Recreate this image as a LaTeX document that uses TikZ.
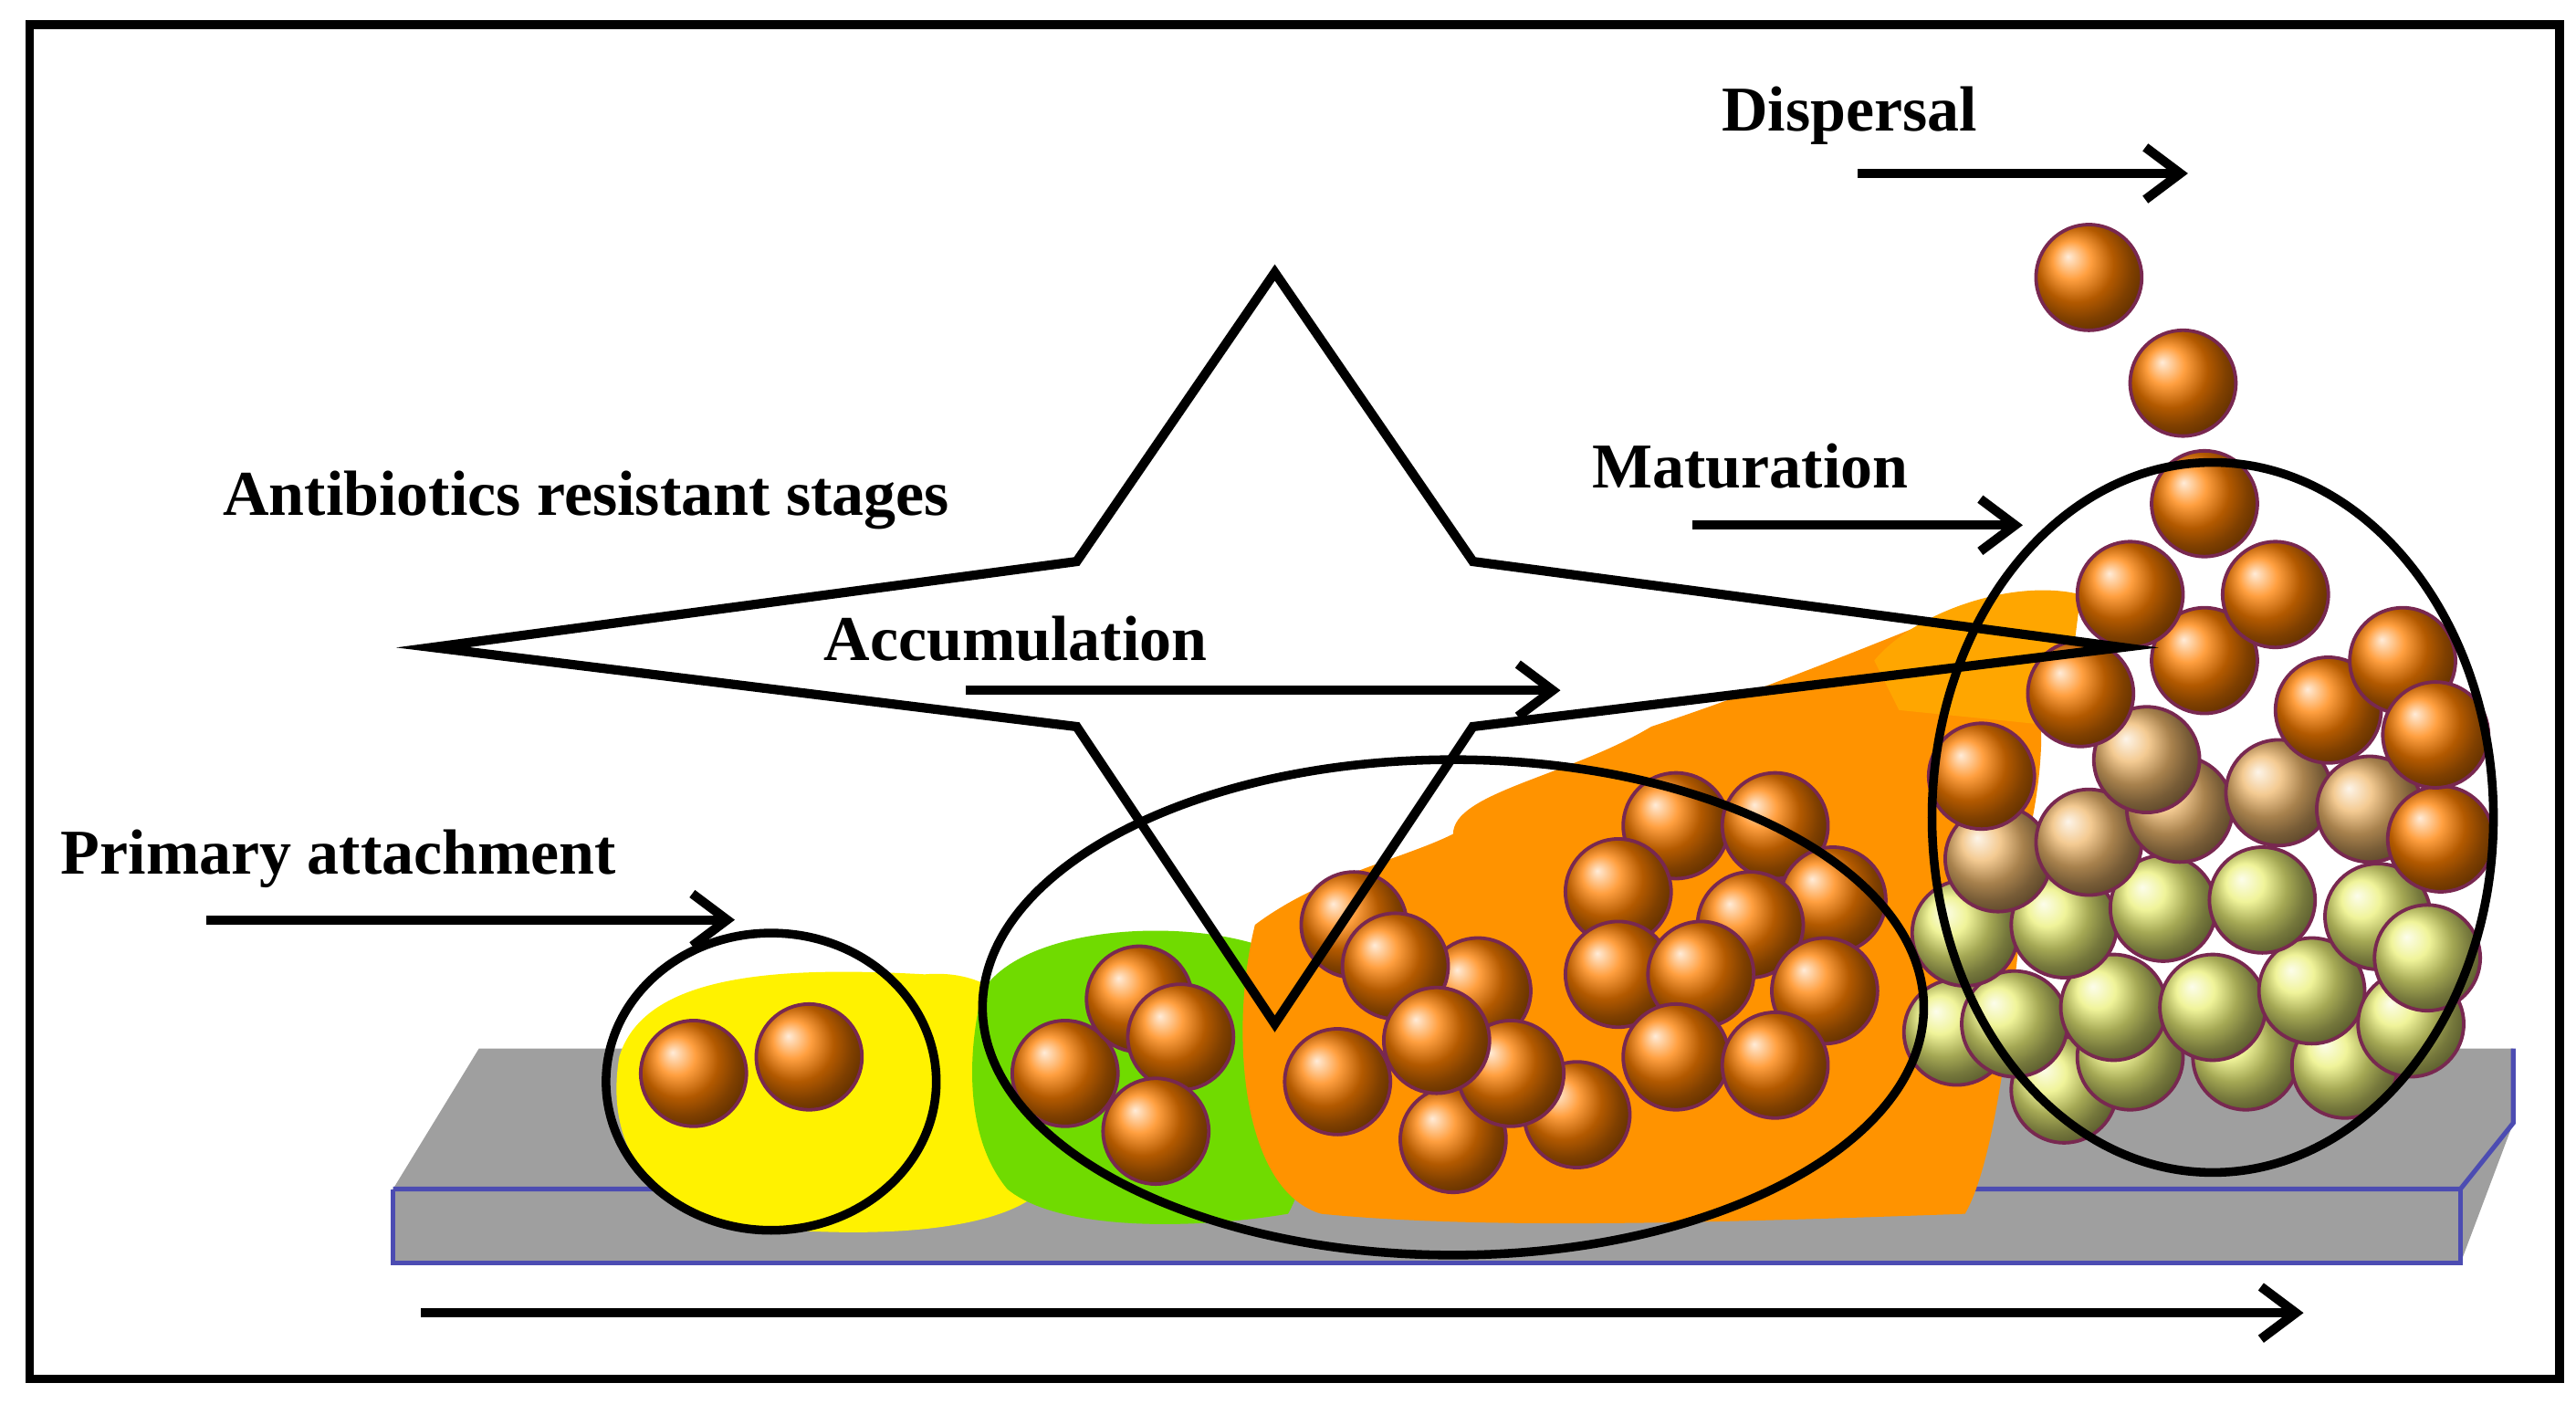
\documentclass[tikz,border=0pt]{standalone}
\usepackage{fontspec}
\usetikzlibrary{arrows.meta}
\setmainfont{Liberation Serif}
\begin{document}
\begin{tikzpicture}[x=0.01cm,y=-0.01cm,
  lbl/.style={font=\bfseries\fontsize{11}{13}\selectfont,inner sep=0pt},
  arr/.style={-{Straight Barb[length=6pt,width=9pt]},line width=1.6pt},
  ring/.style={draw=black,line width=1.5pt},
  sph/.style={circle,draw={rgb,255:red,120;green,40;blue,80},line width=0.6pt,minimum size=0.64cm,inner sep=0pt,shading=ball},
  cor/.style={sph,ball color=orange},
  tan/.style={sph,ball color={rgb,255:red,240;green,185;blue,110}},
  yg/.style={sph,ball color={rgb,255:red,235;green,240;blue,120}}]
\useasboundingbox (0,0) rectangle (1560,850);
\draw[line width=1.5pt] (18,15) rectangle (1550,835);
% substrate
\fill[gray!75] (238,720) -- (290,635) -- (1522,635) -- (1522,680) -- (1490,765) -- (238,765) -- cycle;
\draw[blue!40!gray,line width=0.8pt] (238,720) -- (1490,720) -- (1522,680) -- (1522,635);
\draw[blue!40!gray,line width=0.8pt] (238,720) -- (238,765) -- (1490,765) -- (1490,720);
% biofilm blobs
\fill[yellow] (375,640) .. controls (390,590) and (470,585) .. (560,590) .. controls (620,585) and (640,640) .. (640,700) .. controls (640,740) and (560,750) .. (480,745) .. controls (400,745) and (365,700) .. (375,640) -- cycle;
\fill[green!60!olive!70!yellow] (595,600) .. controls (620,560) and (720,555) .. (770,575) .. controls (810,600) and (800,700) .. (780,735) .. controls (720,745) and (640,745) .. (610,720) .. controls (585,690) and (585,640) .. (595,600) -- cycle;
\fill[orange!85!yellow] (760,560) .. controls (800,530) and (850,520) .. (880,505) .. controls (880,480) and (950,470) .. (1000,440) .. controls (1060,420) and (1110,400) .. (1160,380) .. controls (1220,360) and (1250,400) .. (1230,500) .. controls (1220,600) and (1210,700) .. (1190,735) .. controls (1050,740) and (900,745) .. (800,735) .. controls (750,720) and (745,620) .. (760,560) -- cycle;
\fill[orange!70!yellow] (1135,400) .. controls (1160,370) and (1220,350) .. (1260,360) -- (1250,440) -- (1150,430) -- cycle;
% spheres
\foreach \p in {(420,650),(490,640)} \node[cor] at \p {};
\foreach \p in {(645,650),(690,605),(715,628),(700,685)} \node[cor] at \p {};
\foreach \p in {(820,560),(895,600),(845,585),(810,655),(955,675),(880,690),(915,650),(870,630)} \node[cor] at \p {};
\foreach \p in {(1015,500),(1075,500),(1110,545),(980,540),(1060,560),(1105,600),(980,590),(1030,590),(1015,640),(1075,645)} \node[cor] at \p {};
\foreach \p in {(1185,625),(1250,660),(1290,640),(1360,640),(1420,645),(1220,620),(1280,610),(1340,610),(1400,600),(1460,620),(1190,565),(1250,560),(1310,550),(1370,545),(1440,555),(1470,580)} \node[yg] at \p {};
\foreach \p in {(1210,520),(1265,510),(1320,490),(1380,480),(1435,490),(1300,460)} \node[tan] at \p {};
\foreach \p in {(1200,470),(1478,508),(1260,420),(1335,400),(1410,430),(1455,400),(1475,445),(1290,360),(1378,360),(1335,305),(1322,232),(1265,168)} \node[cor] at \p {};
% ellipses
\draw[ring] (467,655) ellipse (100 and 90);
\draw[ring] (880,610) ellipse (285 and 150);
\draw[ring] (1340,495) ellipse (170 and 215);
% star
\draw[line width=1.6pt,line join=miter] (772,165) -- (892,340) -- (1285,392) -- (892,440) -- (772,620) -- (652,440) -- (262,392) -- (652,340) -- cycle;
% arrows
\draw[arr] (125,557) -- (445,557);
\draw[arr] (585,418) -- (945,418);
\draw[arr] (1025,318) -- (1225,318);
\draw[arr] (1125,105) -- (1325,105);
\draw[arr] (255,795) -- (1395,795);
% labels
\node[lbl] at (205,520) {Primary attachment};
\node[lbl] at (615,387) {Accumulation};
\node[lbl] at (355,303) {Antibiotics resistant stages};
\node[lbl] at (1060,282) {Maturation};
\node[lbl] at (1120,70) {Dispersal};
\end{tikzpicture}
\end{document}
